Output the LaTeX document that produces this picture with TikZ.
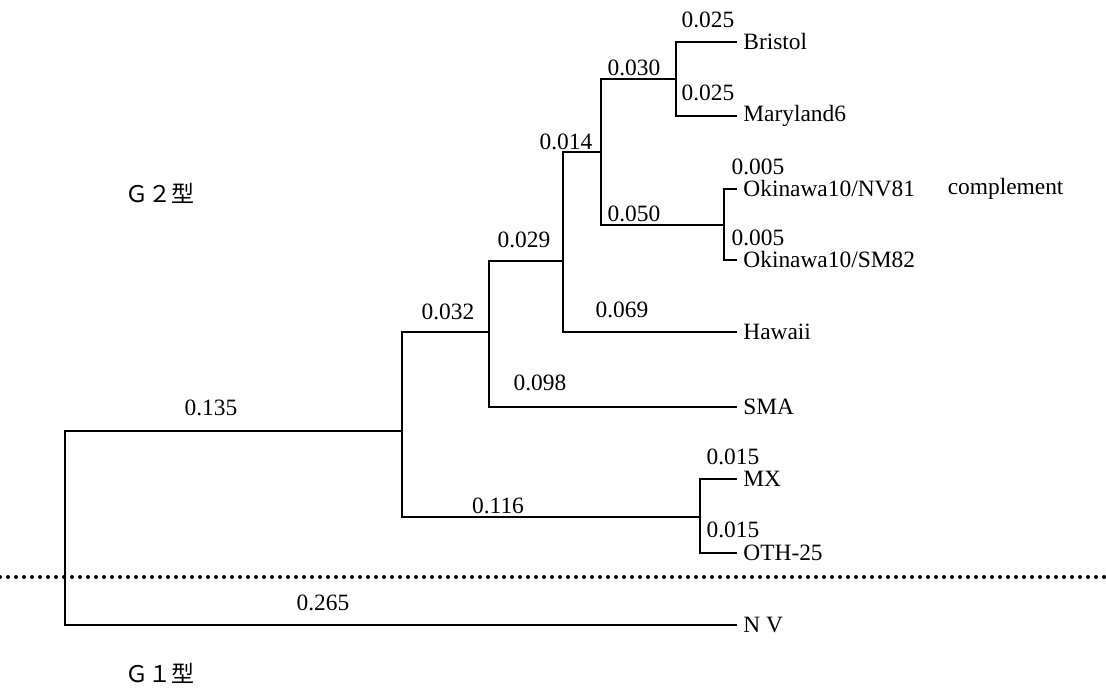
\documentclass[tikz,border=0pt]{standalone}
\usepackage{fontspec}
\setmainfont{Liberation Serif}
\newfontfamily\cjk{Noto Sans CJK JP}
\usetikzlibrary{positioning}

\tikzset{
    branch/.style={line width=1.1pt},
    leaf/.style={anchor=west, inner sep=3pt, font=\fontsize{11.7}{14}\selectfont},
    blen/.style={inner sep=0pt, font=\fontsize{11.7}{14}\selectfont},
    groupline/.style={line width=2pt, line cap=round, dash pattern=on 0pt off 4pt},
    grouplabel/.style={inner sep=0pt, font=\cjk\fontsize{11.5}{14}\selectfont},
}

\begin{document}
\begin{tikzpicture}[x=0.5pt, y=-0.5pt]
    \useasboundingbox (0,0) rectangle (1106,688);

    % Internal nodes of the tree
    \coordinate (root) at (65,528);
    \coordinate (nA) at (402,431);
    \coordinate (nB) at (489,332);
    \coordinate (nC) at (563,261);
    \coordinate (nD) at (601,152);
    \coordinate (nE) at (676,79);
    \coordinate (nF) at (724,225);
    \coordinate (nG) at (700,517);

    % Leaves
    \node[leaf] (bristol) at (737,42) {Bristol};
    \node[leaf] (maryland) at (737,116) {Maryland6};
    \node[leaf] (nv81) at (737,189) {Okinawa10/NV81};
    \node[leaf, right=10pt of nv81] (compl) {complement};
    \node[leaf] (sm82) at (737,260) {Okinawa10/SM82};
    \node[leaf] (hawaii) at (737,332) {Hawaii};
    \node[leaf] (sma) at (737,407) {SMA};
    \node[leaf] (mx) at (737,479) {MX};
    \node[leaf] (oth) at (737,553) {OTH-25};
    \node[leaf] (nv) at (737,625) {N V};

    % Branches
    \draw[branch] (root) |- (nA);
    \draw[branch] (root) |- (nv.west);
    \draw[branch] (nA) |- (nB);
    \draw[branch] (nA) |- (nG);
    \draw[branch] (nB) |- (nC);
    \draw[branch] (nB) |- (sma.west);
    \draw[branch] (nC) |- (nD);
    \draw[branch] (nC) |- (hawaii.west);
    \draw[branch] (nD) |- (nE);
    \draw[branch] (nD) |- (nF);
    \draw[branch] (nE) |- (bristol.west);
    \draw[branch] (nE) |- (maryland.west);
    \draw[branch] (nF) |- (nv81.west);
    \draw[branch] (nF) |- (sm82.west);
    \draw[branch] (nG) |- (mx.west);
    \draw[branch] (nG) |- (oth.west);

    % Branch lengths
    \foreach \n/\x/\y/\v in {l135/211/408/0.135, l032/448/312/0.032, l029/524/240/0.029,
            l014/566/142/0.014, l030/634/68/0.030, lbri/708/20/0.025, lmar/708/93/0.025,
            lnv81/758/167/0.005, l050/634/214/0.050, lsm82/758/238/0.005,
            l069/622/310/0.069, l098/540/383/0.098, l116/498/506/0.116,
            lmx/733/457/0.015, loth/733/530/0.015, l265/323/603/0.265} {
        \node[blen] (\n) at (\x,\y) {\v};
    }

    % Genogroup boundary
    \coordinate (sepL) at (0,577);
    \coordinate (sepR) at (1106,577);
    \draw[groupline] (sepL) -- (sepR);

    \node[grouplabel] (g2) at (160,193) {Ｇ２型};
    \node[grouplabel] (g1) at (160,673) {Ｇ１型};
\end{tikzpicture}
\end{document}
